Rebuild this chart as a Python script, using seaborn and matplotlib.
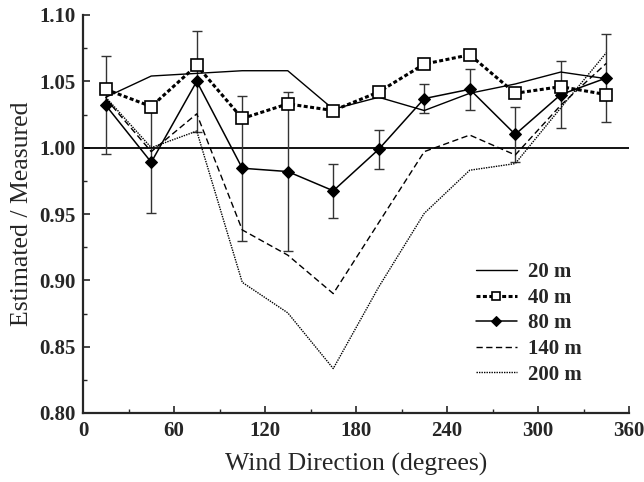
import numpy as np
import pandas as pd
import seaborn as sns
import matplotlib
matplotlib.use("Agg")
import matplotlib.pyplot as plt
from matplotlib.ticker import MultipleLocator

# ---- data ----
directions = [15, 45, 75, 105, 135, 165, 195, 225, 255, 285, 315, 345]
h20 = [1.038, 1.054, 1.056, 1.058, 1.058, 1.029, 1.038, 1.028, 1.041, 1.048, 1.057, 1.052]
h40 = [1.044, 1.031, 1.062, 1.022, 1.033, 1.028, 1.042, 1.063, 1.070, 1.041, 1.046, 1.040]
h80 = [1.032, 0.989, 1.050, 0.9845, 0.982, 0.9675, 0.9988, 1.037, 1.044, 1.010, 1.040, 1.0525]
h80_err = [0.037, 0.038, 0.038, 0.0545, 0.060, 0.0205, 0.0148, 0.011, 0.0155, 0.0205, 0.025, 0.033]
h140 = [1.037, 0.997, 1.0255, 0.938, 0.919, 0.890, 0.9435, 0.997, 1.0095, 0.9945, 1.032, 1.0635]
h200 = [1.038, 1.000, 1.0125, 0.8985, 0.8755, 0.8335, 0.895, 0.9505, 0.983, 0.988, 1.030, 1.0715]
labels = ["20 m", "40 m", "80 m", "140 m", "200 m"]

sns.set_style("ticks")
plt.rcParams["font.family"] = ["Liberation Serif", "DejaVu Serif"]
plt.rcParams["mathtext.fontset"] = "stix"

fig = plt.figure(figsize=(6.44, 4.82), dpi=100)
ax = fig.add_axes([83/644, 1 - 413/482, (629 - 83)/644, (413 - 15)/482])

df = pd.DataFrame({"dir": directions, "h20": h20, "h40": h40, "h80": h80,
                   "h140": h140, "h200": h200})

ax.axhline(1.0, color="black", lw=1.3, zorder=1)

ax.errorbar(df["dir"], df["h80"], yerr=h80_err, fmt="none", ecolor="#333333",
            elinewidth=1.0, capsize=3.3, capthick=1.0, zorder=2)

sns.lineplot(data=df, x="dir", y="h20", ax=ax, color="black", lw=1.0,
             label=labels[0], zorder=3)
sns.lineplot(data=df, x="dir", y="h140", ax=ax, color="black", lw=1.0,
             linestyle=(0, (4.5, 2.5)), label=labels[3], zorder=3)
sns.lineplot(data=df, x="dir", y="h200", ax=ax, color="black", lw=1.0,
             linestyle=(0, (1, 0.8)), label=labels[4], zorder=3)
sns.lineplot(data=df, x="dir", y="h80", ax=ax, color="black", lw=1.1,
             marker="D", markersize=6.2, markerfacecolor="black",
             markeredgecolor="black", label=labels[2], zorder=4)
sns.lineplot(data=df, x="dir", y="h40", ax=ax, color="black", lw=2.2,
             linestyle=(0, (1.3, 0.8)), marker="s", markersize=8.5,
             markerfacecolor="white", markeredgecolor="black",
             markeredgewidth=1.2, label=labels[1], zorder=5)

ax.set_xlim(0, 360)
ax.set_ylim(0.80, 1.10)
ax.xaxis.set_major_locator(MultipleLocator(60))
ax.xaxis.set_minor_locator(MultipleLocator(30))
ax.yaxis.set_minor_locator(MultipleLocator(0.025))
ax.set_yticks([0.80, 0.85, 0.90, 0.95, 1.00, 1.05, 1.10])
ax.set_yticklabels(["0.80", "0.85", "0.90", "0.95", "1.00", "1.05", "1.10"])

ax.tick_params(axis="both", which="major", direction="in", length=5, width=1.2,
               labelsize=15, pad=5)
ax.tick_params(axis="both", which="minor", direction="in", length=3, width=1.0)
ax.tick_params(axis="x", which="major", pad=6)
for lab in ax.get_xticklabels() + ax.get_yticklabels():
    lab.set_fontweight("bold")

for s in ["left", "bottom"]:
    ax.spines[s].set_linewidth(1.6)
ax.spines["top"].set_visible(False)
ax.spines["right"].set_visible(False)

ax.set_xlabel("Wind Direction (degrees)", fontsize=18.5, labelpad=8)
ax.set_ylabel("Estimated / Measured", fontsize=18.5, labelpad=5)

handles, labs = ax.get_legend_handles_labels()
order = [labs.index(l) for l in labels]
leg = ax.legend([handles[i] for i in order], [labs[i] for i in order],
                loc="upper left", bbox_to_anchor=(0.70, 0.405), frameon=False,
                prop={"weight": "bold", "size": 15}, handlelength=2.0,
                handletextpad=0.5, labelspacing=0.27, borderpad=0,
                markerscale=0.75)

fig.savefig("out.png", dpi=100)
